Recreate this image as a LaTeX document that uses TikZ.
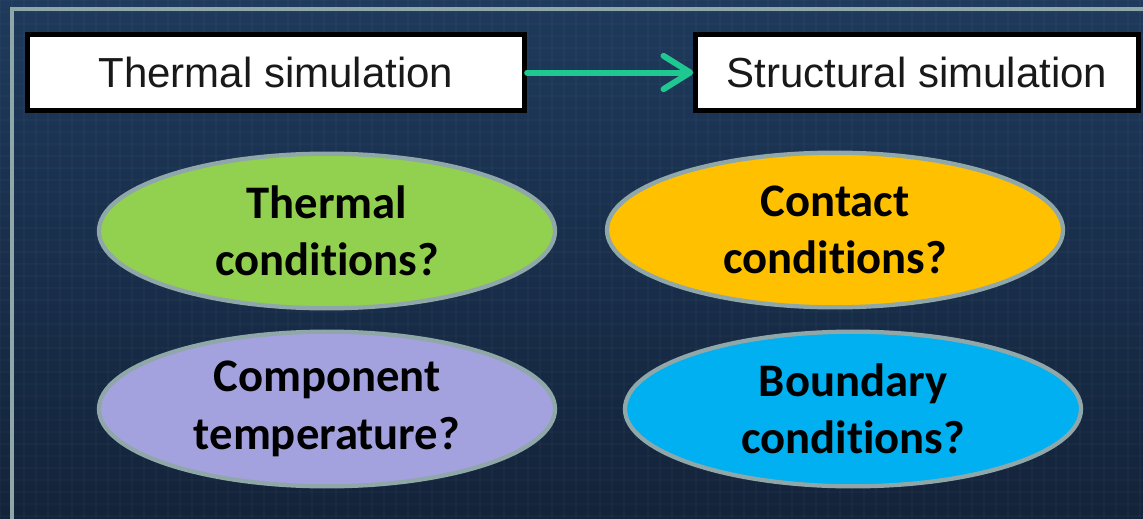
\documentclass[tikz,border=0pt]{standalone}
\usepackage{fontspec}
\setmainfont{Liberation Sans}
\newfontfamily\calib[Ligatures={NoCommon,NoRequired,NoContextual}, Contextuals=NoAlternate]{Carlito}
\usetikzlibrary{shapes.geometric,arrows.meta}
\definecolor{bgtop}{HTML}{1E3A5C}
\definecolor{bgbot}{HTML}{13233A}
\definecolor{frameC}{HTML}{8FA7A8}
\definecolor{arrowC}{HTML}{1FC890}
\definecolor{greenF}{HTML}{92D050}
\definecolor{orangeF}{HTML}{FFC000}
\definecolor{lavF}{HTML}{A4A2DE}
\definecolor{blueF}{HTML}{00B0F0}
\tikzset{
  simbox/.style={draw=black, line width=3.75pt, fill=white, inner sep=0pt,
    font=\fontsize{31.5}{38}\selectfont, text=black!90},
  blob/.style={ellipse, draw=frameC, line width=3.2pt, inner sep=0pt,
    minimum width=342pt, minimum height=116pt, align=center,
    font=\calib\bfseries\fontsize{35}{43}\selectfont, text=black},
  flow/.style={draw=arrowC, line width=4.5pt, line cap=round,
    -{Straight Barb[length=20pt,width=25pt,line width=4.5pt,round]}}
}
\begin{document}
\begin{tikzpicture}[x=0.75pt,y=-0.75pt]
\useasboundingbox (0,0) rectangle (1143,518);
\shade[top color=bgtop, bottom color=bgbot] (0,0) rectangle (1143,518);
% faint grid texture
\foreach \i in {0,12,...,1140} {\draw[white, opacity=0.025, line width=1.5pt] (\i,0) -- (\i,518);}
\foreach \j in {0,12,...,516} {\draw[white, opacity=0.02, line width=1.5pt] (0,\j) -- (1143,\j);}
% frame
\draw[frameC, line width=2.5pt] (12,530) -- (12,9) -- (1160,9);
% boxes
\node[simbox, minimum width=373pt, minimum height=57pt] (ts) at (276,72.5) {Thermal simulation};
\node[simbox, minimum width=332pt, minimum height=57pt] (ss) at (917,72.5) {Structural simulation};
\draw[flow] (ts.east) -- (ss.west);
% ellipses
\node[blob, fill=greenF] (tc) at (327,231) {Thermal\\condit\kern0pt ions?};
\node[blob, fill=orangeF] (cc) at (835,230) {Contact\\condit\kern0pt ions?};
\node[blob, fill=lavF] (ct) at (327,409) {Component\\temperature?};
\node[blob, fill=blueF] (bc) at (853,409) {Boundary\\condit\kern0pt ions?};
\end{tikzpicture}
\end{document}
